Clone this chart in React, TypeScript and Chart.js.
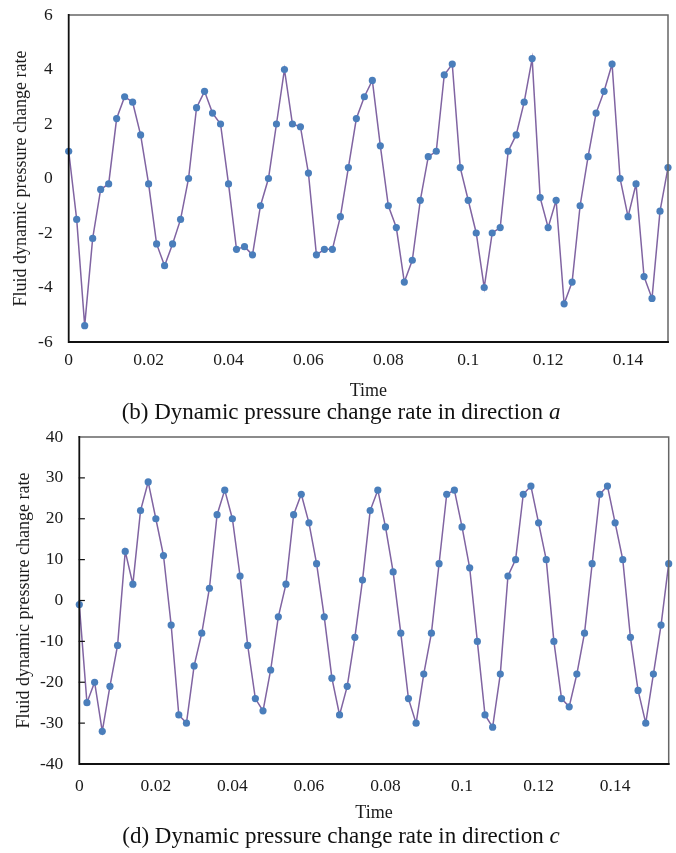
import React, { useEffect, useRef } from 'react';
import { Chart, registerables } from 'chart.js';

Chart.register(...registerables);

// ---------- data ----------
const timeA = [
  0, 0.002, 0.004, 0.006, 0.008, 0.01, 0.012, 0.014, 0.016, 0.018,
  0.02, 0.022, 0.024, 0.026, 0.028, 0.03, 0.032, 0.034, 0.036, 0.038,
  0.04, 0.042, 0.044, 0.046, 0.048, 0.05, 0.052, 0.054, 0.056, 0.058,
  0.06, 0.062, 0.064, 0.066, 0.068, 0.07, 0.072, 0.074, 0.076, 0.078,
  0.08, 0.082, 0.084, 0.086, 0.088, 0.09, 0.092, 0.094, 0.096, 0.098,
  0.1, 0.102, 0.104, 0.106, 0.108, 0.11, 0.112, 0.114, 0.116, 0.118,
  0.12, 0.122, 0.124, 0.126, 0.128, 0.13, 0.132, 0.134, 0.136, 0.138,
  0.14, 0.142, 0.144, 0.146, 0.148, 0.15,
];
const valuesA = [
  1.0, -1.5, -5.4, -2.2, -0.4, -0.2, 2.2, 3.0, 2.8, 1.6,
  -0.2, -2.4, -3.2, -2.4, -1.5, 0.0, 2.6, 3.2, 2.4, 2.0,
  -0.2, -2.6, -2.5, -2.8, -1.0, 0.0, 2.0, 4.0, 2.0, 1.9,
  0.2, -2.8, -2.6, -2.6, -1.4, 0.4, 2.2, 3.0, 3.6, 1.2,
  -1.0, -1.8, -3.8, -3.0, -0.8, 0.8, 1.0, 3.8, 4.2, 0.4,
  -0.8, -2.0, -4.0, -2.0, -1.8, 1.0, 1.6, 2.8, 4.4, -0.7,
  -1.8, -0.8, -4.6, -3.8, -1.0, 0.8, 2.4, 3.2, 4.2, 0.0,
  -1.4, -0.2, -3.6, -4.4, -1.2, 0.4,
];

const timeC = [
  0, 0.002, 0.004, 0.006, 0.008, 0.01, 0.012, 0.014, 0.016, 0.018,
  0.02, 0.022, 0.024, 0.026, 0.028, 0.03, 0.032, 0.034, 0.036, 0.038,
  0.04, 0.042, 0.044, 0.046, 0.048, 0.05, 0.052, 0.054, 0.056, 0.058,
  0.06, 0.062, 0.064, 0.066, 0.068, 0.07, 0.072, 0.074, 0.076, 0.078,
  0.08, 0.082, 0.084, 0.086, 0.088, 0.09, 0.092, 0.094, 0.096, 0.098,
  0.1, 0.102, 0.104, 0.106, 0.108, 0.11, 0.112, 0.114, 0.116, 0.118,
  0.12, 0.122, 0.124, 0.126, 0.128, 0.13, 0.132, 0.134, 0.136, 0.138,
  0.14, 0.142, 0.144, 0.146, 0.148, 0.15, 0.152, 0.154,
];
const valuesC = [
  -1, -25, -20, -32, -21, -11, 12, 4, 22, 29,
  20, 11, -6, -28, -30, -16, -8, 3, 21, 27,
  20, 6, -11, -24, -27, -17, -4, 4, 21, 26,
  19, 9, -4, -19, -28, -21, -9, 5, 22, 27,
  18, 7, -8, -24, -30, -18, -8, 9, 26, 27,
  18, 8, -10, -28, -31, -18, 6, 10, 26, 28,
  19, 10, -10, -24, -26, -18, -8, 9, 26, 28,
  19, 10, -9, -22, -30, -18, -6, 9,
];

const xTickValues = [0, 0.02, 0.04, 0.06, 0.08, 0.1, 0.12, 0.14];
const yTicksA = [-6, -4, -2, 0, 2, 4, 6];
const yTicksC = [-40, -30, -20, -10, 0, 10, 20, 30, 40];

const xTitle = 'Time';
const yTitle = 'Fluid dynamic pressure change rate';

// ---------- styles ----------
const FONT = "'Liberation Serif', 'Times New Roman', serif";
const LINE_COLOR = '#8064A2';
const POINT_COLOR = '#4A7EBB';
const TEXT_COLOR = '#1a1a1a';

const framePlugin = (innerTicks: boolean) => ({
  id: 'frame' + (innerTicks ? 'T' : 'F'),
  afterDraw(chart: any) {
    const { ctx, chartArea: a } = chart;
    ctx.save();
    ctx.lineCap = 'square';
    // top & right (gray)
    ctx.strokeStyle = '#666666';
    ctx.lineWidth = 1.5;
    ctx.beginPath();
    ctx.moveTo(a.left, a.top);
    ctx.lineTo(a.right, a.top);
    ctx.lineTo(a.right, a.bottom);
    ctx.stroke();
    // left & bottom (dark)
    ctx.strokeStyle = '#111111';
    ctx.lineWidth = 1.8;
    ctx.beginPath();
    ctx.moveTo(a.left, a.top);
    ctx.lineTo(a.left, a.bottom);
    ctx.lineTo(a.right, a.bottom);
    ctx.stroke();
    if (innerTicks) {
      const ys = chart.scales.y;
      ctx.lineWidth = 1.2;
      ys.ticks.forEach((t: any) => {
        const p = ys.getPixelForValue(t.value);
        if (Math.abs(p - a.top) < 2 || Math.abs(p - a.bottom) < 2) return;
        ctx.beginPath();
        ctx.moveTo(a.left, p);
        ctx.lineTo(a.left + 5, p);
        ctx.stroke();
      });
    }
    ctx.restore();
  },
});

type Cfg = {
  times: number[];
  values: number[];
  yTicks: number[];
  xMax: number;
  padding: { top: number; right: number; left: number; bottom: number };
  yWidth: number;
  xHeight: number;
  xTickPad: number;
  yTitlePad: number;
  innerTicks: boolean;
};

function buildConfig(c: Cfg): any {
  return {
    type: 'line',
    data: {
      datasets: [
        {
          data: c.times.map((t, i) => ({ x: t, y: c.values[i] })),
          borderColor: LINE_COLOR,
          borderWidth: 1.5,
          pointRadius: 3.6,
          pointBackgroundColor: POINT_COLOR,
          pointBorderColor: POINT_COLOR,
          pointBorderWidth: 0,
          tension: 0,
          fill: false,
          clip: false,
        },
      ],
    },
    options: {
      responsive: false,
      animation: false,
      devicePixelRatio: 1,
      layout: { padding: c.padding },
      plugins: {
        legend: { display: false },
        tooltip: { enabled: false },
      },
      scales: {
        x: {
          type: 'linear',
          min: 0,
          max: c.xMax,
          afterBuildTicks: (s: any) => {
            s.ticks = xTickValues.map((v) => ({ value: v }));
          },
          afterFit: (s: any) => {
            s.height = c.xHeight;
            s.paddingLeft = 0;
            s.paddingRight = 0;
          },
          grid: { display: false, drawTicks: false },
          border: { display: false },
          ticks: {
            padding: c.xTickPad,
            color: TEXT_COLOR,
            font: { family: FONT, size: 17.5 },
            maxRotation: 0,
            autoSkip: false,
            callback: (v: any) => String(Number(Number(v).toFixed(3))),
          },
          title: {
            display: true,
            text: xTitle,
            color: TEXT_COLOR,
            font: { family: FONT, size: 18 },
            padding: { top: 0, bottom: 0 },
          },
        },
        y: {
          type: 'linear',
          min: c.yTicks[0],
          max: c.yTicks[c.yTicks.length - 1],
          afterBuildTicks: (s: any) => {
            s.ticks = c.yTicks.map((v) => ({ value: v }));
          },
          afterFit: (s: any) => {
            s.width = c.yWidth;
            s.paddingTop = 0;
            s.paddingBottom = 0;
          },
          grid: { display: false, drawTicks: false },
          border: { display: false },
          ticks: {
            padding: 16,
            color: TEXT_COLOR,
            font: { family: FONT, size: 17.5 },
            autoSkip: false,
            callback: (v: any) => String(v),
          },
          title: {
            display: true,
            text: yTitle,
            color: TEXT_COLOR,
            font: { family: FONT, size: 18 },
            padding: { top: c.yTitlePad, bottom: 0 },
          },
        },
      },
    },
    plugins: [framePlugin(c.innerTicks)],
  };
}

function LineChart({ cfg, width, height, top }: { cfg: Cfg; width: number; height: number; top: number }) {
  const ref = useRef<HTMLCanvasElement | null>(null);
  useEffect(() => {
    if (!ref.current) return;
    const chart = new Chart(ref.current, buildConfig(cfg));
    return () => chart.destroy();
  }, []);
  return (
    <canvas
      ref={ref}
      width={width}
      height={height}
      style={{ position: 'absolute', left: 0, top, width, height }}
    />
  );
}

const captionStyle = (top: number): React.CSSProperties => ({
  position: 'absolute',
  left: 0,
  top,
  width: 682,
  textAlign: 'center',
  fontFamily: FONT,
  fontSize: 23,
  lineHeight: '26px',
  color: '#111',
  whiteSpace: 'nowrap',
});

export default function App() {
  const cfgA: Cfg = {
    times: timeA,
    values: valuesA,
    yTicks: yTicksA,
    xMax: 0.15,
    padding: { top: 15, right: 8, left: 0, bottom: 0 },
    yWidth: 68.7,
    xHeight: 60,
    xTickPad: 8,
    yTitlePad: 10.5,
    innerTicks: false,
  };
  const cfgC: Cfg = {
    times: timeC,
    values: valuesC,
    yTicks: yTicksC,
    xMax: 0.154,
    padding: { top: 17, right: 7.3, left: 0, bottom: 0 },
    yWidth: 79.3,
    xHeight: 60,
    xTickPad: 12,
    yTitlePad: 13,
    innerTicks: true,
  };
  return (
    <div style={{ position: 'absolute', left: 0, top: 0, width: 676, height: 853, background: '#fff' }}>
      <LineChart cfg={cfgA} width={676} height={402} top={0} />
      <div style={captionStyle(399)}>
        (b) Dynamic pressure change rate in direction <i>a</i>
      </div>
      <LineChart cfg={cfgC} width={676} height={404} top={420} />
      <div style={captionStyle(823)}>
        (d) Dynamic pressure change rate in direction <i>c</i>
      </div>
    </div>
  );
}
